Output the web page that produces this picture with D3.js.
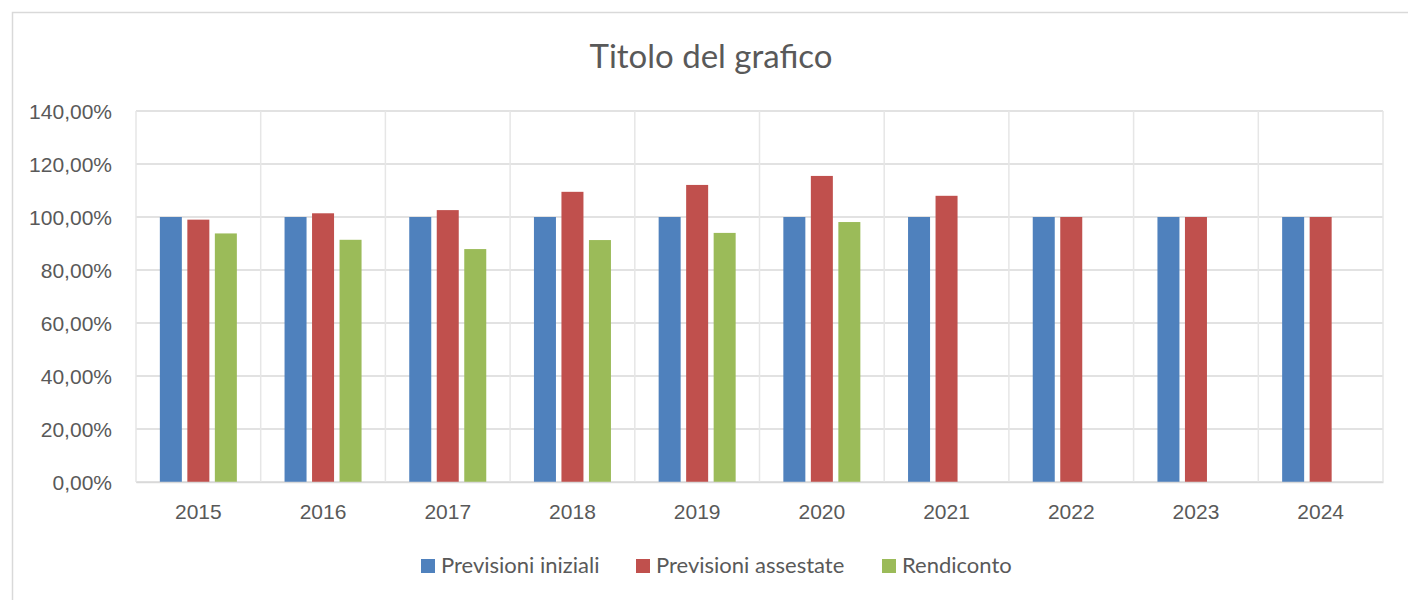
<!DOCTYPE html>
<html lang="it">
<head>
	<meta charset="UTF-8">
	<script src="https://d3js.org/d3.v7.min.js"></script>
	<title>Titolo del grafico</title>
	<style>
		body { margin: 0; background: #fff; }
		svg { display: block; font-family: Lato, "Open Sans", sans-serif; }
		.tick text { fill: #595959; font-size: 21px; }
	</style>
</head>
<body>
	<svg width="1408" height="600"></svg>
	<script>
		const years = ['2015', '2016', '2017', '2018', '2019', '2020', '2021', '2022', '2023', '2024'];
		const seriesNames = ['Previsioni iniziali', 'Previsioni assestate', 'Rendiconto'];
		const previsioniIniziali = [100, 100, 100, 100, 100, 100, 100, 100, 100, 100];
		const previsioniAssestate = [99.0, 101.4, 102.6, 109.5, 112.1, 115.5, 108.0, 100, 100, 100];
		const rendiconto = [93.8, 91.4, 87.9, 91.3, 94.0, 98.1, null, null, null, null];
		const yTicks = [0, 20, 40, 60, 80, 100, 120, 140];
		const colors = ['#4f81bd', '#c0504d', '#9bbb59'];

		const allSeries = [previsioniIniziali, previsioniAssestate, rendiconto];
		const svg = d3.select('svg');

		// chart frame
		svg.append('rect')
			.attr('x', 12.5).attr('y', 12.5)
			.attr('width', 1420).attr('height', 620)
			.attr('fill', 'none').attr('stroke', '#d9d9d9').attr('stroke-width', 1.5);

		const plotLeft = 136, plotRight = 1383, plotTop = 111, plotBottom = 482;

		const x = d3.scaleBand().domain(years).range([plotLeft, plotRight]);
		const xInner = d3.scaleBand().domain(seriesNames).range([0, x.bandwidth()])
			.paddingInner(0.2).paddingOuter(0.867);
		const y = d3.scaleLinear().domain([0, 140]).range([plotBottom, plotTop]);

		// horizontal gridlines
		svg.append('g')
			.selectAll('line')
			.data(yTicks)
			.enter()
			.append('line')
			.attr('x1', plotLeft).attr('x2', plotRight)
			.attr('y1', d => y(d)).attr('y2', d => y(d))
			.attr('stroke', '#d9d9d9').attr('stroke-width', 1.5);

		// vertical gridlines at category edges
		const edges = years.map(d => x(d)).concat([plotRight]);
		svg.append('g')
			.selectAll('line')
			.data(edges)
			.enter()
			.append('line')
			.attr('x1', d => d).attr('x2', d => d)
			.attr('y1', plotTop).attr('y2', plotBottom)
			.attr('stroke', '#e6e6e6').attr('stroke-width', 1.5);

		// bars
		allSeries.forEach((values, i) => {
			svg.append('g')
				.selectAll('rect')
				.data(values.map((v, j) => ({ year: years[j], v })).filter(d => d.v != null))
				.enter()
				.append('rect')
				.attr('x', d => x(d.year) + xInner(seriesNames[i]))
				.attr('y', d => y(d.v))
				.attr('width', xInner.bandwidth())
				.attr('height', d => y(0) - y(d.v))
				.attr('fill', colors[i]);
		});

		// axes
		const fmt = d => d3.format('.2f')(d).replace('.', ',') + '%';
		const yAxis = svg.append('g')
			.attr('transform', `translate(${plotLeft},0)`)
			.call(d3.axisLeft(y).tickValues(yTicks).tickFormat(fmt).tickSize(0).tickPadding(24));
		yAxis.select('.domain').remove();
		yAxis.selectAll('text').attr('dy', '0.35em');

		const xAxis = svg.append('g')
			.attr('transform', `translate(0,${plotBottom})`)
			.call(d3.axisBottom(x).tickSize(0).tickPadding(22));
		xAxis.select('.domain').attr('stroke', '#d9d9d9').attr('stroke-width', 1.5);

		// title
		svg.append('text')
			.attr('x', 711).attr('y', 68)
			.attr('text-anchor', 'middle')
			.attr('fill', '#595959')
			.style('font-size', '33px')
			.text('Titolo del grafico');

		// legend
		const legendX = [421, 636, 882];
		const legend = svg.append('g')
			.selectAll('g')
			.data(seriesNames)
			.enter()
			.append('g')
			.attr('transform', (d, i) => `translate(${legendX[i]},559)`);
		legend.append('rect')
			.attr('width', 14).attr('height', 14)
			.attr('fill', (d, i) => colors[i]);
		legend.append('text')
			.attr('x', 20).attr('y', 14)
			.attr('fill', '#595959')
			.style('font-size', '22px')
			.text(d => d);
	</script>
</body>
</html>
